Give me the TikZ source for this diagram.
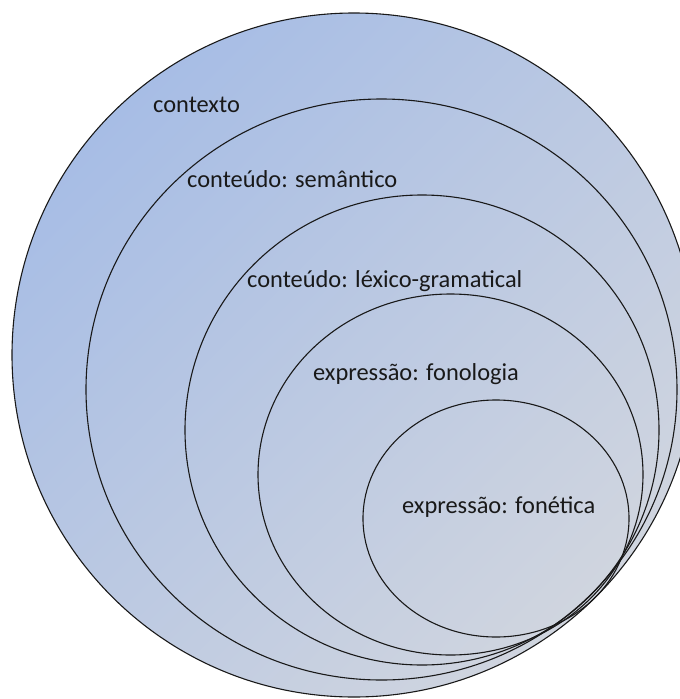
\documentclass[tikz,border=0pt]{standalone}
\usepackage{fontspec}
\setmainfont{Carlito}
\usepackage{tikz}

\definecolor{ringblue}{RGB}{167,189,229}
\definecolor{ringgray}{RGB}{208,213,223}

\begin{document}
\begin{tikzpicture}[x=1pt, y=-1pt,
        ring/.style={draw=black!90, line width=1.1pt},
        lbl/.style={anchor=base west, inner sep=0pt, text=black!90,
            font=\fontsize{24.4}{29}\selectfont}]
            \useasboundingbox (0,0) rectangle (680,699);
            \clip (0,0) rectangle (680,699);

            % outer circle carries the one gradient
            \shade[ring, top color=ringblue, bottom color=ringgray, shading angle=45]
                (354,355) circle [radius=342pt];

            \draw[ring] (381.5,389.5) ellipse [x radius=295.5pt, y radius=290.5pt];
            \draw[ring] (422,430) ellipse [x radius=237pt, y radius=235pt];
            \draw[ring] (450.5,474.5) ellipse [x radius=192.5pt, y radius=180.5pt];
            \draw[ring] (496,518.5) ellipse [x radius=133pt, y radius=118.5pt];

            \node[lbl] (contexto) at (153,112) {contexto};
            \node[lbl] (semantico) at (187,187) {conteúdo: semântico};
            \node[lbl] (lexico) at (247,287) {conteúdo: léxico-gramatical};
            \node[lbl] (fonologia) at (313,380) {expressão: fonologia};
            \node[lbl] (fonetica) at (402,513) {expressão: fonética};

        \end{tikzpicture}
\end{document}
